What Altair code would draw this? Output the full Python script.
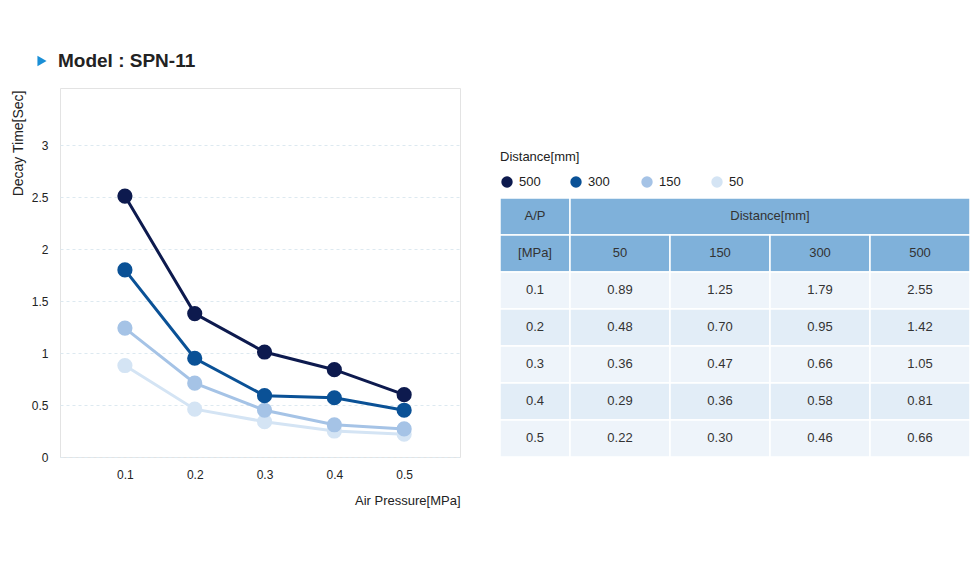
import altair as alt
import pandas as pd

# ---------------- data ----------------
pressures = [0.1, 0.2, 0.3, 0.4, 0.5]
distances = ["500", "300", "150", "50"]
series_500 = [2.51, 1.38, 1.01, 0.84, 0.60]
series_300 = [1.80, 0.95, 0.59, 0.57, 0.45]
series_150 = [1.24, 0.71, 0.45, 0.31, 0.27]
series_50 = [0.88, 0.46, 0.34, 0.25, 0.22]
colors = ["#0d1a4e", "#0a5196", "#a5c3e6", "#d4e4f4"]

table_cols = ["50", "150", "300", "500"]
table_ap = ["0.1", "0.2", "0.3", "0.4", "0.5"]
table_50 = ["0.89", "0.48", "0.36", "0.29", "0.22"]
table_150 = ["1.25", "0.70", "0.47", "0.36", "0.30"]
table_300 = ["1.79", "0.95", "0.66", "0.58", "0.46"]
table_500 = ["2.55", "1.42", "1.05", "0.81", "0.66"]

FONT = "Liberation Sans"

# ---------------- line chart ----------------
rows = []
for d, s in zip(distances, [series_500, series_300, series_150, series_50]):
    for p, v in zip(pressures, s):
        rows.append({"Distance": d, "P": p, "T": v})
df = pd.DataFrame(rows)

color_scale = alt.Scale(domain=distances, range=colors)
order_map = {"500": 3, "300": 2, "150": 1, "50": 0}
df["ord"] = df["Distance"].map(order_map)

x_enc = alt.X("P:Q", scale=alt.Scale(domain=[0.007, 0.58], nice=False, zero=False),
              axis=alt.Axis(values=pressures, format=".1f", title="Air Pressure[MPa]",
                            grid=False, domain=False, ticks=False, labelPadding=12,
                            labelFontSize=12, labelColor="#222", labelFont=FONT,
                            titleFont=FONT, titleFontSize=13, titleFontWeight="normal",
                            titleColor="#222", titleAnchor="end", titleAlign="right",
                            titleX=400, titleY=43, titleBaseline="middle"))
y_enc = alt.Y("T:Q", scale=alt.Scale(domain=[0, 3.55], nice=False),
              axis=alt.Axis(values=[0, 0.5, 1, 1.5, 2, 2.5, 3], format="~g",
                            title="Decay Time[Sec]",
                            grid=True, gridDash=[3, 3], gridColor="#dde9f0",
                            domain=False, ticks=False, labelPadding=12,
                            labelFontSize=12, labelColor="#222", labelFont=FONT,
                            titleFont=FONT, titleFontSize=14, titleFontWeight="normal",
                            titleColor="#222", titleAnchor="end", titleAlign="right",
                            titleAngle=270, titleX=-42, titleY=2, titleBaseline="middle"))

base = alt.Chart(df)
lines = base.mark_line(strokeWidth=3).encode(
    x=x_enc, y=y_enc,
    color=alt.Color("Distance:N", scale=color_scale, legend=None),
    detail="Distance:N", order=alt.Order("P:Q"),
)
points = base.mark_circle(size=230, opacity=1).encode(
    x="P:Q", y="T:Q",
    color=alt.Color("Distance:N", scale=color_scale, legend=None),
    order=alt.Order("ord:Q"),
)

title_df = pd.DataFrame({"t": ["Model : SPN-11"]})
title_tri = alt.Chart(title_df).mark_point(shape="triangle-right", filled=True, size=110,
                                           color="#1a8fd6", opacity=1).encode(
    x=alt.value(-18), y=alt.value(-27))
title_txt = alt.Chart(title_df).mark_text(align="left", baseline="middle", fontSize=19,
                                          fontWeight="bold", font=FONT, color="#222").encode(
    x=alt.value(-2), y=alt.value(-27), text="t:N")

left = alt.layer(lines, points, title_tri, title_txt).properties(
    width=400, height=369, view=alt.ViewBackground(stroke="#e3e3e3", strokeWidth=1))

# ---------------- table ----------------
col_edges = [0, 0.7, 1.7, 2.7, 3.7, 4.7]
cells = []
cells.append({"x0": col_edges[0], "x1": col_edges[1], "y0": 6, "y1": 7, "txt": "A/P", "fill": "#7fb1da"})
cells.append({"x0": col_edges[1], "x1": col_edges[5], "y0": 6, "y1": 7, "txt": "Distance[mm]", "fill": "#7fb1da"})
cells.append({"x0": col_edges[0], "x1": col_edges[1], "y0": 5, "y1": 6, "txt": "[MPa]", "fill": "#7fb1da"})
for i, c in enumerate(table_cols):
    cells.append({"x0": col_edges[i + 1], "x1": col_edges[i + 2], "y0": 5, "y1": 6, "txt": c, "fill": "#7fb1da"})
body_cols = [table_ap, table_50, table_150, table_300, table_500]
for r in range(5):
    fill = "#eef4fa" if r % 2 == 0 else "#e2edf7"
    for ci, colvals in enumerate(body_cols):
        cells.append({"x0": col_edges[ci], "x1": col_edges[ci + 1], "y0": 4 - r, "y1": 5 - r,
                      "txt": colvals[r], "fill": fill})
tdf = pd.DataFrame(cells)
tdf["xm"] = (tdf["x0"] + tdf["x1"]) / 2
tdf["ym"] = (tdf["y0"] + tdf["y1"]) / 2

xs = alt.Scale(domain=[0, 4.7], nice=False, zero=False)
ys = alt.Scale(domain=[0, 9.97], nice=False, zero=False)

rects = alt.Chart(tdf).mark_rect(stroke="white", strokeWidth=1.5).encode(
    x=alt.X("x0:Q", scale=xs, axis=None), x2="x1:Q",
    y=alt.Y("y0:Q", scale=ys, axis=None), y2="y1:Q",
    fill=alt.Fill("fill:N", scale=None),
)
texts = alt.Chart(tdf).mark_text(fontSize=13, font=FONT, color="#333").encode(
    x=alt.X("xm:Q", scale=xs), y=alt.Y("ym:Q", scale=ys), text="txt:N")

leg_x = [0.07, 0.76, 1.47, 2.17]
leg_df = pd.DataFrame({"Distance": distances, "lx": leg_x, "ly": [7.43] * 4})
leg_df["tx"] = leg_df["lx"] + 0.12
leg_pts = alt.Chart(leg_df).mark_circle(size=130, opacity=1).encode(
    x=alt.X("lx:Q", scale=xs), y=alt.Y("ly:Q", scale=ys),
    color=alt.Color("Distance:N", scale=color_scale, legend=None))
leg_txt = alt.Chart(leg_df).mark_text(align="left", baseline="middle", fontSize=13,
                                      font=FONT, color="#222").encode(
    x=alt.X("tx:Q", scale=xs), y=alt.Y("ly:Q", scale=ys), text="Distance:N")
leg_title = alt.Chart(pd.DataFrame({"t": ["Distance[mm]"], "x": [0.0], "y": [8.1]})).mark_text(
    align="left", baseline="middle", fontSize=13, font=FONT, color="#222").encode(
    x=alt.X("x:Q", scale=xs), y=alt.Y("y:Q", scale=ys), text="t:N")

right = alt.layer(rects, texts, leg_pts, leg_txt, leg_title).properties(
    width=470, height=369, view=alt.ViewBackground(strokeWidth=0))

chart = alt.hconcat(left, right, spacing=38).resolve_scale(color="shared").properties(
    padding={"left": 2, "top": 43, "right": 0, "bottom": 5},
    background="white",
)

chart.save("out.html", embed_options={"renderer": "svg", "actions": False})
